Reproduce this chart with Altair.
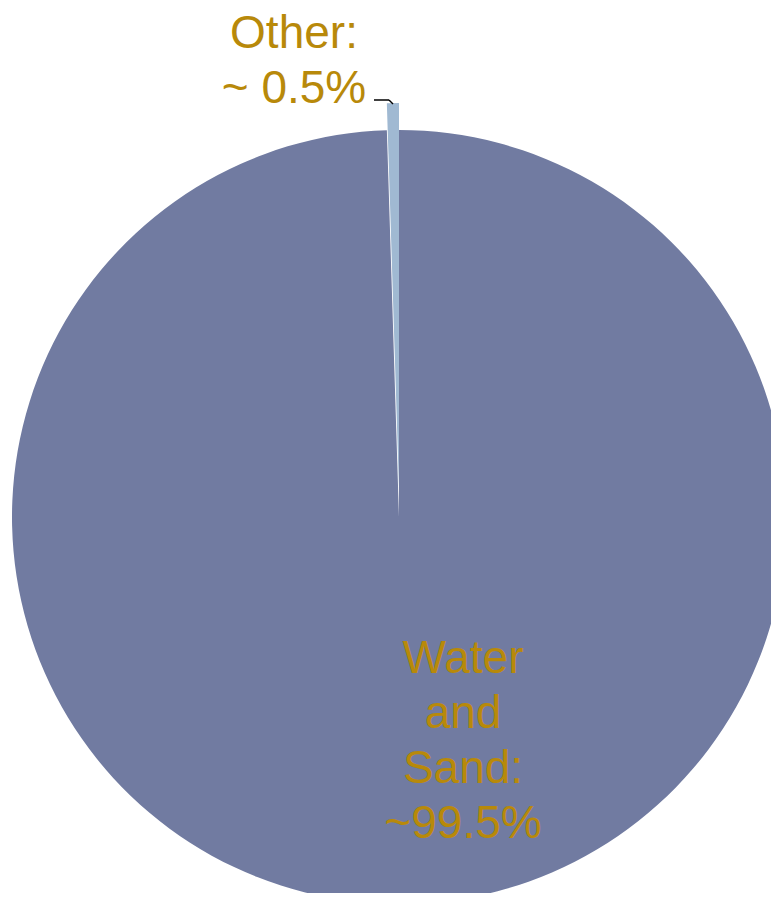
import altair as alt
import pandas as pd

categories = ["Water and Sand", "Other"]
values = [99.5, 0.5]
labels = ["Water\nand\nSand:\n~99.5%", "Other:\n~ 0.5%"]
colors = ["#717BA1", "#A0B9D2"]

df = pd.DataFrame({"category": categories, "value": values, "label": labels})

base = alt.Chart(df).transform_stack(
    stack="value", groupby=[], as_=["v0", "v1"],
    sort=[alt.SortField(field="category", order="descending")]
)

theta_scale = alt.Scale(domain=[0, 100], range=[0, 6.283185307])
color_enc = alt.Color("category:N", scale=alt.Scale(domain=categories, range=colors), legend=None)

main = base.transform_filter(alt.datum.category == "Water and Sand").mark_arc(outerRadius=387).encode(
    theta=alt.Theta("v0:Q", scale=theta_scale),
    theta2="v1:Q",
    color=color_enc,
    x=alt.value(391), y=alt.value(509),
)

other = base.transform_filter(alt.datum.category == "Other").mark_arc(outerRadius=387).encode(
    theta=alt.Theta("v0:Q", scale=theta_scale),
    theta2="v1:Q",
    color=color_enc,
    x=alt.value(391), y=alt.value(482),
)

text_style = dict(font="Liberation Sans", fontSize=46, color="#B8890A", align="center",
                  baseline="alphabetic", lineBreak="\n", lineHeight=55)

main_text = alt.Chart(df).transform_filter(alt.datum.category == "Water and Sand").mark_text(**text_style).encode(
    text="label:N", x=alt.value(455), y=alt.value(665)
)
other_text = alt.Chart(df).transform_filter(alt.datum.category == "Other").mark_text(**text_style).encode(
    text="label:N", x=alt.value(286), y=alt.value(40)
)

leader1 = alt.Chart(df).transform_filter(alt.datum.category == "Other").mark_rule(color="black", strokeWidth=1.5).encode(
    x=alt.value(366), x2=alt.value(381), y=alt.value(92), y2=alt.value(92)
)
leader2 = alt.Chart(df).transform_filter(alt.datum.category == "Other").mark_rule(color="black", strokeWidth=1.5).encode(
    x=alt.value(381), x2=alt.value(385), y=alt.value(92), y2=alt.value(96)
)

chart = alt.layer(main, other, leader1, leader2, other_text, main_text).properties(
    width=763, height=885, padding=0, autosize=alt.AutoSizeParams(type="none"),
    background="#ffffff"
).configure_view(stroke=None)

chart.save("out.html", embed_options={"renderer": "svg", "actions": False})
